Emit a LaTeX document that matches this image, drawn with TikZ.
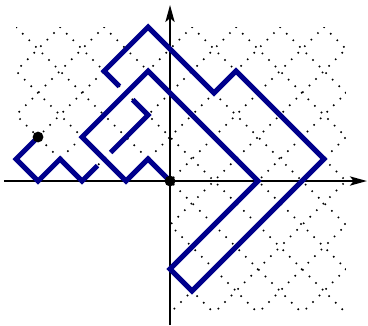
\documentclass[tikz,border=0pt]{standalone}
\usepackage{tikz}
\usetikzlibrary{arrows.meta}
\definecolor{WalkBlue}{RGB}{0,0,140}
\tikzset{
    % Dotted lattice style
    gridline/.style={
        dotted,
        line width=0.4pt,
        draw=black
    },
    % Axis style
    axisline/.style={
        -{Stealth[length=4.4pt,width=2.4pt,inset=1pt]},
        line width=0.4pt,
        draw=black
    },
    % Walk style
    walkline/.style={
        line width=1.3pt,
        draw=WalkBlue
    },
    % End point dot
    walkdot/.style={
        circle,
        fill=black,
        inner sep=0pt,
        minimum size=2.8pt
    }
}
\begin{document}
\begin{tikzpicture}[x=0.2cm, y=0.2cm]
    \useasboundingbox (-7.73,-6.55) rectangle (9,8.23);

    % Dotted lattice
    \begin{scope}
        \clip (-7,0) -- (-7,7) -- (8,7) -- (8,-6) -- (0,-6) -- (0,0) -- cycle;
        \foreach \k in {-20,-18,...,20} {
            \draw[gridline] (\k-10,-10) -- (\k+10,10);
            \draw[gridline] (\k-10,10) -- (\k+10,-10);
        }
    \end{scope}

    % Axes
    \coordinate (xl) at (-7.55,0);
    \coordinate (xr) at (8.95,0);
    \coordinate (yb) at (0,-6.55);
    \coordinate (yt) at (0,8);
    \draw[axisline] (xl) -- (xr);
    \draw[axisline] (yb) -- (yt);

    % Walk, broken at the two crossings
    \coordinate (start) at (-6,2);
    \coordinate (origin) at (0,0);
    \draw[walkline] (start) -- (-7,1) -- (-6,0) -- (-5,1) -- (-4,0) -- (-3.3,0.7);
    \draw[walkline] (-2.7,1.3) -- (-1,3) -- (-1.7,3.7);
    \draw[walkline] (-2.3,4.3) -- (-3,5) -- (-1,7) -- (2,4) -- (3,5) -- (7,1) -- (1,-5) -- (0,-4)
        -- (4,0) -- (-1,5) -- (-4,2) -- (-2,0) -- (-1,1) -- (origin);

    % End points
    \node[walkdot] (startdot) at (start) {};
    \node[walkdot] (origindot) at (origin) {};
\end{tikzpicture}
\end{document}
